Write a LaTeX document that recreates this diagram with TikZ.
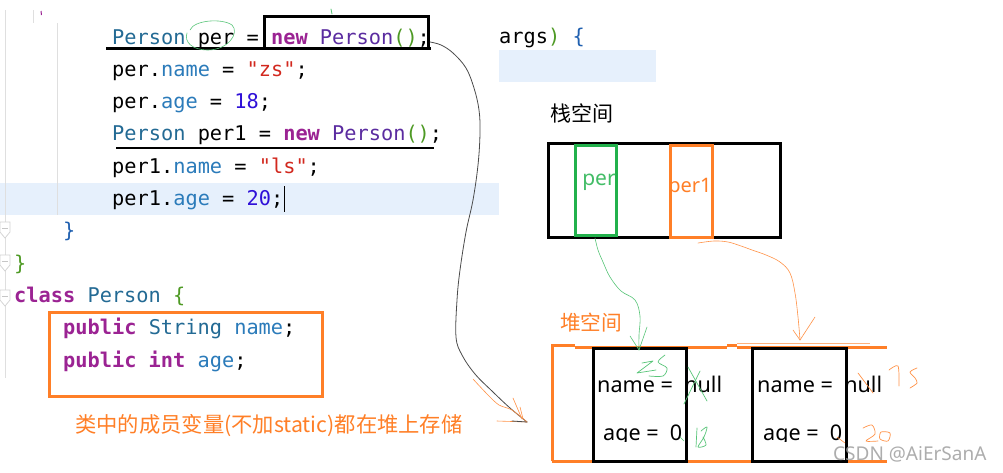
\documentclass[tikz,border=0pt]{standalone}
\usepackage{fontspec}
\setmonofont{DejaVu Sans Mono}
\newfontfamily\sansf{Noto Sans}
\newfontfamily\cjk{Noto Sans CJK SC}
\definecolor{kw}{HTML}{9B2393}
\definecolor{ct}{HTML}{5B2CA0}
\definecolor{ty}{HTML}{236A94}
\definecolor{fd}{HTML}{2B7BBA}
\definecolor{nu}{HTML}{2F10D8}
\definecolor{st}{HTML}{D2281E}
\definecolor{pa}{HTML}{4E9A24}
\definecolor{bl}{HTML}{2060B0}
\definecolor{hl}{HTML}{E6F0FC}
\definecolor{mso}{HTML}{FF7F27}
\definecolor{msg}{HTML}{22B14C}
\definecolor{penc}{HTML}{4A4A4A}
\newcommand\codef{\ttfamily\fontsize{20.3}{24}\selectfont}
\tikzset{
  code/.style={inner sep=0pt, anchor=base west, font=\codef},
  thickbox/.style={draw, line width=3pt, inner sep=0pt},
  pen/.style={line width=0.8pt, line cap=round, line join=round},
  gpen/.style={pen, draw=msg!75},
  open/.style={pen, draw=mso!85},
  gutter/.style={draw=gray!25, line width=0.8pt},
  heaptxt/.style={inner sep=0pt, anchor=base west, font=\sansf\fontsize{21.6}{24}\selectfont},
}
\begin{document}
\begin{tikzpicture}[x=1pt,y=-1pt]
\useasboundingbox (0,0) rectangle (1003,472);
\fill[white] (0,0) rectangle (1003,472);
% highlights
\fill[hl] (0,183) rectangle (499,215);
\fill[hl] (499,50) rectangle (656,82);
% gutter
\draw[gutter] (5,10) -- (5,378);
\draw[gutter] (57,23) -- (57,215);
\draw[gutter] (33,10) -- (33,23);
\draw[kw, line width=1pt] (41,11) -- (41.5,15);
\foreach \yy in {222,255,290}{
  \draw[gray!35, fill=white, line width=0.7pt] (0,\yy) -- (10,\yy) -- (10,\yy+10) -- (5,\yy+16) -- (0,\yy+10) -- cycle;
  \draw[gray!45, line width=0.7pt] (2,\yy+6) -- (8,\yy+6);
}
% code
\node[code] (l1) at (112,44) {\textcolor{ty}{Person} per = \textcolor{kw}{\bfseries new} \textcolor{ct}{Person}\textcolor{pa}{()};};
\node[code] (l2) at (112,76.3) {per.\textcolor{fd}{name} = \textcolor{st}{"zs"};};
\node[code] (l3) at (112,108.6) {per.\textcolor{fd}{age} = \textcolor{nu}{18};};
\node[code] (l4) at (112,140.9) {\textcolor{ty}{Person} per1 = \textcolor{kw}{\bfseries new} \textcolor{ct}{Person}\textcolor{pa}{()};};
\node[code] (l5) at (112,173.2) {per1.\textcolor{fd}{name} = \textcolor{st}{"ls"};};
\node[code] (l6) at (112,205.5) {per1.\textcolor{fd}{age} = \textcolor{nu}{20};};
\node[code] (l7) at (63,237.8) {\textcolor{bl}{\}}};
\node[code] (l8) at (14,270.1) {\textcolor{pa}{\}}};
\node[code] (l9) at (14,302.4) {\textcolor{kw}{\bfseries class} \textcolor{ty}{Person} \textcolor{pa}{\{}};
\node[code] (l10) at (63,334.7) {\textcolor{kw}{\bfseries public} \textcolor{ty}{String} \textcolor{fd}{name};};
\node[code] (l11) at (63,367) {\textcolor{kw}{\bfseries public int} \textcolor{fd}{age};};
\node[code] (args) at (499,43) {args\textcolor{pa}{)} \textcolor{bl}{\{}};
\draw[black, line width=1pt] (284,186) -- (284,212);
% annotations on code
\node[thickbox, minimum width=164pt, minimum height=32pt] (newbox) at (346,32) {};
\draw[line width=2.6pt] (106,48.5) -- (431,48.5);
\draw[line width=2.6pt] (116,148) -- (434,148);
\draw[gpen, line width=0.6pt] (190,30) .. controls (194,20) and (222,18) .. (232,25) .. controls (240,33) and (228,50) .. (208,50) .. controls (192,50) and (184,42) .. (187,33);
\draw[gpen] (331,9) -- (332,14);
\node[thickbox, draw=mso, minimum width=273pt, minimum height=84pt] (fields) at (185.5,354) {};
\node[inner sep=0pt, anchor=base west, text=mso, font=\cjk\fontsize{21.3}{24}\selectfont] (cap) at (75,432) {类中的成员变量(不加static)都在堆上存储};
% stack
\node[inner sep=0pt, anchor=base west, font=\cjk\fontsize{21}{24}\selectfont] (stacklbl) at (550,121) {栈空间};
\node[thickbox, minimum width=232pt, minimum height=94pt] (stack) at (664,190) {};
\node[thickbox, draw=msg, minimum width=41pt, minimum height=90pt] (perbox) at (595.5,190) {};
\node[thickbox, draw=mso, minimum width=42pt, minimum height=92pt] (per1box) at (691,191) {};
\node[inner sep=0pt, anchor=base, text=msg!85, font=\sansf\fontsize{21}{24}\selectfont] (pertxt) at (599,185) {per};
\node[inner sep=0pt, anchor=base, text=mso, font=\sansf\fontsize{20}{24}\selectfont] (per1txt) at (690,192) {per1};
% heap
\node[inner sep=0pt, anchor=base west, text=mso, font=\cjk\fontsize{20.7}{24}\selectfont] (heaplbl) at (560,330) {堆空间};
\draw[mso, line width=3pt] (552,461) -- (552,345) -- (575,345);
\draw[mso, line width=3pt] (575,347.5) -- (727,347.5);
\draw[mso, line width=3pt] (727,345) -- (737,345);
\draw[mso, line width=3pt] (737,347.5) -- (887,347.5);
\draw[mso!60, line width=0.8pt] (737,343.5) -- (870,343.5);
\draw[mso, line width=3pt] (552,461) -- (887,461);
\node[thickbox, minimum width=93pt, minimum height=113pt] (obj1) at (639.5,404.5) {};
\node[thickbox, minimum width=94pt, minimum height=113pt] (obj2) at (799,404.5) {};
\begin{scope}
\clip (560,350) rectangle (900,441);
\node[heaptxt] (n1) at (597,392) {name = \ null};
\node[heaptxt] (a1) at (603,440) {age = \ 0};
\node[heaptxt] (n2) at (757,392) {name = \ null};
\node[heaptxt] (a2) at (763,440) {age = \ 0};
\end{scope}
% connectors (hand drawn)
\coordinate (c1s) at (430,42);
\coordinate (c1e) at (527,422);
\draw[pen, draw=penc] plot[smooth, tension=0.6] coordinates {(c1s) (441,45) (453,53) (466,68) (474,88) (479,110) (480,133) (478,165) (473,200) (466,232) (460,270) (457,300) (456,337) (462,355) (475,374) (493,392) (510,408) (c1e)};
\draw[open, line width=0.6pt] plot[smooth] coordinates {(473,379) (488,395) (499,405) (512,410) (c1e)};
\draw[open, line width=0.6pt] (513,398) -- (522,419);
\draw[open, line width=0.6pt] (520,407) -- (523,419);
\draw[open, line width=0.6pt] (497,421) -- (c1e);
\draw[pen, draw=penc] (512,421) -- (c1e);
\coordinate (g1s) at (595,238);
\coordinate (g1e) at (639,350);
\draw[gpen, line width=0.6pt] plot[smooth, tension=0.6] coordinates {(g1s) (598,250) (603,262) (610,277) (621,291) (635,300) (640,316) (639,335) (g1e)};
\draw[gpen, line width=0.6pt] (630,336) -- (g1e) -- (647,327);
\coordinate (o1s) at (698,243);
\coordinate (o1e) at (800,340);
\draw[open, line width=0.6pt] plot[smooth, tension=0.6] coordinates {(o1s) (714,241) (728,242) (741,246) (752,250) (766,255) (780,262) (790,273) (795,293) (798,317) (o1e)};
\draw[open, line width=0.6pt] (793,330) -- (o1e) -- (815,317);
% scribbles
\draw[gpen, line width=0.7pt] (642,363) -- (653,361) -- (637,373) -- (656,370);
\draw[gpen, line width=0.7pt] plot[smooth] coordinates {(665,355) (658,362) (667,368) (663,376) (649,376)};
\draw[gpen, line width=0.7pt] (688,367) -- (707,401);
\draw[gpen, line width=0.7pt] (700,371) -- (684,404);
\draw[gpen, line width=0.7pt] (697,428) -- (696,447);
\draw[gpen, line width=0.7pt] plot[smooth] coordinates {(701,431) (707,427) (704,437) (698,447) (706,445) (703,437)};
\draw[gpen, line width=0.6pt] (680,437) -- (684,441);
\draw[open, line width=0.7pt] plot[smooth] coordinates {(889,370) (898,366) (899,386)};
\draw[open, line width=0.7pt] plot[smooth] coordinates {(917,368) (910,372) (915,378) (917,383) (910,388)};
\draw[open, line width=0.7pt] plot[smooth] coordinates {(863,428) (872,425) (875,434) (866,441) (878,441)};
\draw[open, line width=0.7pt] plot[smooth cycle] coordinates {(881,432) (890,433) (888,441) (880,439)};
\draw[open, line width=0.7pt] (858,373) -- (873,393);
\draw[open, line width=0.6pt] (837,437) -- (845,443);
% watermark
\node[inner sep=0pt, anchor=base west, text=gray!75, opacity=0.85, font=\sansf\fontsize{19}{22}\selectfont] (wm) at (833,460) {CSDN @AiErSanA};
\end{tikzpicture}
\end{document}
